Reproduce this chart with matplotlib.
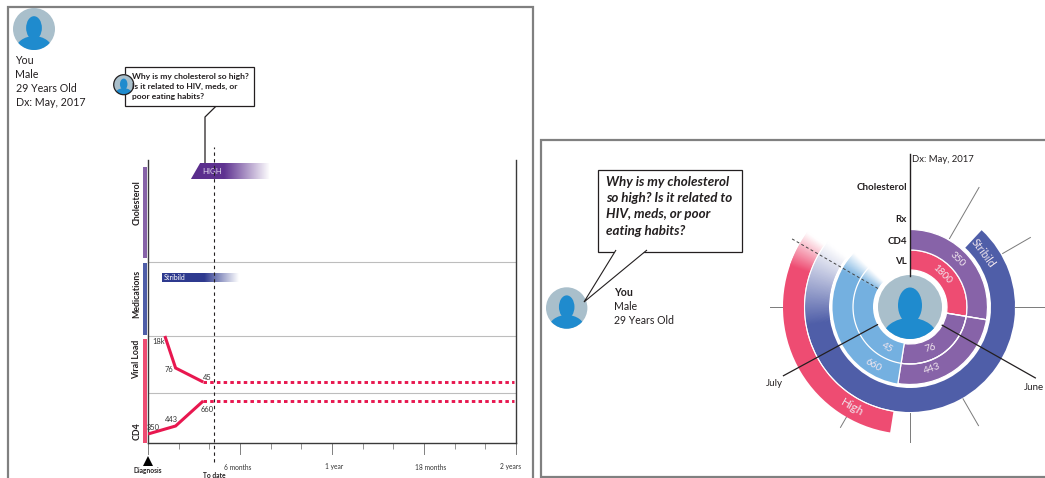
import numpy as np
import matplotlib
matplotlib.use('Agg')
import matplotlib.pyplot as plt
from matplotlib.patches import Circle, Ellipse, Rectangle, Polygon
from matplotlib.colors import LinearSegmentedColormap, to_rgb

W, H = 1045, 478
FONT = 'Lato'
plt.rcParams['font.family'] = [FONT, 'DejaVu Sans']

# ---------- data: timeline ----------
tick_months = [0, 2, 4, 6, 8, 10, 12, 14, 16, 18, 20, 22, 24]
major_months = [6, 12, 18, 24]
major_labels = ['6 months', '1 year', '18 months', '2 years']
to_date_month = 4.3
row_lines = [181.5, 107.5, 50]
vl_months = [1.1, 1.8, 3.6]
vl_levels = [107, 75, 61]
vl_labels = ['18k', '76', '45']
cd4_months = [0, 1.8, 3.6]
cd4_levels = [9, 17, 42]
cd4_labels = ['350', '443', '660']
row_names = ['Cholesterol', 'Medications', 'Viral Load', 'CD4']
row_bands = [(185, 276), (108, 180), (0, 104)]
high_start, high_end = 2.8, 7.9
rx_start, rx_end = 0.9, 5.9

# ---------- data: radial view ----------
visit_angles = [0, 99.5, 189, 300]
vl_ring_labels = ['1800', '76', '45']
cd4_ring_labels = ['350', '443', '660']
rx_angles = (43, 316)
chol_angles = (189, 316)
spoke_angles = [30, 60, 90, 150, 180, 210, 270]
spoke_inner = [79, 107, 105, 106, 106, 127, 127]
spoke_outer = [138, 139, 140, 137, 135, 139, 140]
month_angles = [119.5, 241.5]
month_names = ['June', 'July']

PURPLE = '#8763A8'
BLUE = '#4F5EA8'
RED = '#EE4C72'
SKY = '#74B0E0'
LINE_RED = '#E8174F'
AV_BG = '#A9BFCB'
AV_FG = '#1F8BCE'
DARK = '#231F20'
GREY = '#808080'

fig = plt.figure(figsize=(W / 100, H / 100), dpi=100)

# ---------- page layer in pixels ----------
page = fig.add_axes([0, 0, 1, 1], zorder=0)
page.set_xlim(0, W)
page.set_ylim(H, 0)
page.axis('off')


def avatar(ax, cx, cy, r, ring=None, z=5):
    bg = Circle((cx, cy), r, fc=AV_BG, ec='none', zorder=z)
    ax.add_patch(bg)
    if ring:
        ax.add_patch(Circle((cx, cy), r, fc='none', ec=ring, lw=0.9, zorder=z + 2))
    head = Ellipse((cx, cy - r * 0.05), r * 0.75, r * 1.12, fc=AV_FG, ec='none', zorder=z + 1)
    body = Ellipse((cx, cy + r * 1.0), r * 1.75, r * 1.32, fc=AV_FG, ec='none', zorder=z + 1)
    ax.add_patch(head)
    ax.add_patch(body)
    head.set_clip_path(bg)
    body.set_clip_path(bg)


# panels
page.add_patch(Rectangle((8, 6.5), 525, 480, fc='white', ec=GREY, lw=1.6, zorder=1))
page.add_patch(Rectangle((541, 139.5), 520, 337.5, fc='white', ec=GREY, lw=1.6, zorder=1))

# left profile
avatar(page, 34, 29, 21)
for y, s in zip([60, 74, 88, 102], ['You', 'Male', '29 Years Old', 'Dx: May, 2017']):
    page.text(15.5, y, s, fontsize=7.7, color=DARK, va='center', ha='left', zorder=6)

# left callout
page.plot([216.7, 205, 205], [105.5, 117, 163], color=DARK, lw=0.9, zorder=6)
page.add_patch(Rectangle((125, 66.5), 128.5, 39, fc='white', ec=DARK, lw=0.9, zorder=6))
for y, s in zip([76, 86, 96], ['Why is my cholesterol so high?', 'Is it related to HIV, meds, or', 'poor eating habits?']):
    page.text(132, y, s, fontsize=6.1, fontweight='bold', color=DARK, va='center', zorder=9)
page.add_patch(Circle((123.7, 84.7), 10.3, fc='white', ec='none', zorder=7))
avatar(page, 123.7, 84.7, 10, ring=DARK, z=7)

# right callout
page.add_patch(Rectangle((598, 169.5), 143.5, 82, fc='white', ec=DARK, lw=0.9, zorder=4))
page.add_patch(Polygon([(616, 250), (584, 302), (647, 250)], closed=False, fc='white', ec=DARK, lw=0.8, zorder=6))
for y, s in zip([181.5, 198, 214.5, 231],
                ['Why is my cholesterol', 'so high? Is it related to', 'HIV, meds, or poor', 'eating habits?']):
    page.text(606, y, s, fontsize=9.6, fontweight='bold', fontstyle='italic', color=DARK, va='center', zorder=7)

# right profile
avatar(page, 566.7, 308, 20.7)
page.text(614, 293, 'You', fontsize=7.6, fontweight='bold', color=DARK, va='center')
page.text(614, 307, 'Male', fontsize=7.6, color=DARK, va='center')
page.text(614, 321, '29 Years Old', fontsize=7.6, color=DARK, va='center')

# avatar at the hub
avatar(page, 910, 307, 32)

# ---------- timeline axes ----------
left, right, top, bottom = 148, 516, 160, 443
tl = fig.add_axes([left / W, 1 - bottom / H, (right - left) / W, (bottom - top) / H], zorder=3)
tl.patch.set_alpha(0)
tl.set_xlim(0, 24)
tl.set_ylim(0, bottom - top)
tl.spines['top'].set_visible(False)
for s in ['left', 'right', 'bottom']:
    tl.spines[s].set_linewidth(1.0)
    tl.spines[s].set_color('#3a3a3a')
tl.set_yticks([])
tl.set_xticks(tick_months)
tl.set_xticklabels([])
tl.tick_params(axis='x', length=4.5, width=0.6, color='#808080')
for m in major_months + [0]:
    tl.plot([m, m], [0, -10.5], color='#808080', lw=0.7, clip_on=False, zorder=2)

for y in row_lines:
    tl.axhline(y, color='#BDBDBD', lw=0.8, zorder=1)

for (y0, y1), c in zip(row_bands, [PURPLE, BLUE, RED]):
    tl.add_patch(Rectangle((-0.34, y0), 0.27, y1 - y0, fc=c, ec='none', clip_on=False))
for y, s in zip([240, 149, 84, 12], row_names):
    tl.text(-0.72, y, s, rotation=90, ha='center', va='center', fontsize=6.3, fontweight='bold',
            color=DARK, clip_on=False)

# gradients
high_cm = LinearSegmentedColormap.from_list('h', [(0, '#5A2D8C'), (0.42, '#5F3391'), (1, '#FFFFFF')])
im = tl.imshow(np.linspace(0, 1, 256)[None, :], extent=[high_start, high_end, 264, 280], cmap=high_cm,
               aspect='auto', zorder=3)
clip = Polygon([(high_start, 264), (high_start + 0.6, 280), (high_end, 280), (high_end, 264)],
               transform=tl.transData, fc='none', ec='none')
tl.add_patch(clip)
im.set_clip_path(clip)
tl.text(4.15, 271, 'HIGH', color='#E6DDF0', fontsize=5.6, ha='center', va='center', zorder=5)

rx_cm = LinearSegmentedColormap.from_list('r', [(0, '#2E3A8F'), (0.55, '#2E3A8F'), (1, '#FFFFFF')])
tl.imshow(np.linspace(0, 1, 256)[None, :], extent=[rx_start, rx_end, 161, 170], cmap=rx_cm, aspect='auto', zorder=3)
tl.text(1.05, 165.5, 'Stribild', color='white', fontsize=5, ha='left', va='center', zorder=5)
tl.set_xlim(0, 24)
tl.set_ylim(0, bottom - top)

# series
tl.plot(vl_months, vl_levels, color=LINE_RED, lw=2.2, solid_joinstyle='miter', solid_capstyle='butt', zorder=4)
tl.plot(cd4_months, cd4_levels, color=LINE_RED, lw=2.2, solid_joinstyle='miter', solid_capstyle='butt', zorder=4)
for lv in (vl_levels[-1], cd4_levels[-1]):
    tl.plot([vl_months[-1], 23.9], [lv, lv], color=LINE_RED, lw=2.1, dashes=(1.2, 1.1), dash_capstyle='butt', zorder=4)
lab_off_vl = [(-6, -5), (-7, -1), (4, 5)]
lab_off_cd = [(5, 7), (-4, 6), (4, -8)]
for xs, ls, vals, offs in [(vl_months, vl_levels, vl_labels, lab_off_vl),
                           (cd4_months, cd4_levels, cd4_labels, lab_off_cd)]:
    for x, y, s, o in zip(xs, ls, vals, offs):
        tl.annotate(s, (x, y), xytext=(o[0] * 0.72, o[1] * 0.72), textcoords='offset points', fontsize=5.4,
                    ha='center', va='center', color='#333333', zorder=6, annotation_clip=False)

# to-date marker
tl.plot([to_date_month] * 2, [-19, 296], color=DARK, lw=0.8, dashes=(3, 3), clip_on=False, zorder=5)

# tick text
for m, s, dx in zip(major_months, major_labels, [-2, 2, 7, -5]):
    tl.annotate(s, (m, 0), xytext=(dx * 0.72, -24 * 0.72), textcoords='offset points', fontsize=4.8,
                ha='center', va='center', color='#333333', annotation_clip=False)
tl.annotate('Diagnosis', (0, 0), xytext=(0, -28 * 0.72), textcoords='offset points', fontsize=4.8,
            fontweight='bold', ha='center', va='center', color=DARK, annotation_clip=False)
tl.annotate('To date', (to_date_month, 0), xytext=(0.5, -32 * 0.72), textcoords='offset points', fontsize=4.8,
            fontweight='bold', ha='center', va='center', color=DARK, annotation_clip=False)
tl.plot([0], [-17.5], marker='^', color='black', ms=6.5, clip_on=False, mew=0, zorder=6)

# ---------- radial axes ----------
R = 155
cx, cy = 910, 307
po = fig.add_axes([(cx - R) / W, 1 - (cy + R) / H, 2 * R / W, 2 * R / H], projection='polar', zorder=4)
po.patch.set_alpha(0)
po.set_theta_zero_location('N')
po.set_theta_direction(-1)
po.set_ylim(0, R)
po.axis('off')


def seg(a0, a1, r0, r1, color, white_edge=True):
    po.bar(np.radians((a0 + a1) / 2), r1 - r0, width=np.radians(a1 - a0), bottom=r0, color=color,
           edgecolor='white' if white_edge else 'none', linewidth=0.9 if white_edge else 0, zorder=3)


def faded(a0, a1, r0, r1, color, f0, f1):
    """Solid arc that blends to white between f0 and f1 (style only)."""
    base = np.array(to_rgb(color))
    seg(a0, f0 + 0.5, r0, r1, color, white_edge=False)
    # short overlapping steps: no seams, and no dark rim built up along the edges
    for e0 in np.arange(f0, a1, 0.5):
        t = min(1, max(0, (e0 + 0.25 - f0) / (f1 - f0)))
        seg(e0, min(e0 + 1.0, a1), r0, r1, tuple(base + (1 - base) * t), white_edge=False)


# inner two rings
a = visit_angles
ring_cols = [[RED, PURPLE], [PURPLE, PURPLE]]
for i, (r0, r1) in enumerate([(37, 57), (57, 77.5)]):
    for j in range(2):
        seg(a[j], a[j + 1], r0, r1, ring_cols[i][j])
    faded(a[2], 314.5, r0, r1, SKY, 298, 314)

# medication & cholesterol rings
faded(rx_angles[0], 308.5, 81, 105, BLUE, 260, 308)
faded(chol_angles[0], 306.5, 106, 127, RED, 289, 306)

# white separators
th = np.radians(np.linspace(a[1], 316, 200))
po.plot(th, np.full_like(th, 57), color='white', lw=0.9, zorder=4)
for ang in a[1:3]:
    po.plot(np.radians([ang, ang]), [37, 77.5], color='white', lw=0.9, zorder=4)
th2 = np.radians(np.linspace(a[2], 316, 200))
po.plot(th2, np.full_like(th2, 105.5), color='white', lw=0.8, zorder=4)

# spokes
for ang, r0, r1 in zip(spoke_angles, spoke_inner, spoke_outer):
    po.plot(np.radians([ang, ang]), [r0, r1], color='#7a7a7a', lw=0.7, zorder=2)
po.plot(np.radians([0, 0]), [31, 153], color=DARK, lw=1.0, zorder=5)
po.plot(np.radians([300, 300]), [37, 138], color='#444444', lw=0.7, dashes=(3, 2.5), zorder=5)
for ang, name in zip(month_angles, month_names):
    po.plot(np.radians([ang, ang]), [37, 144], color=DARK, lw=0.9, zorder=5)

# ring labels
txt = dict(color='#F1E6EE', ha='center', va='center', zorder=6)
for (ang, r, s, rot) in [(44, 46, vl_ring_labels[0], -45), (45, 67, cd4_ring_labels[0], -45),
                         (154, 46, vl_ring_labels[1], 15), (160, 66, cd4_ring_labels[1], 20),
                         (209, 47, vl_ring_labels[2], -30), (212, 69, cd4_ring_labels[2], -30)]:
    po.text(np.radians(ang), r, s, rotation=rot, fontsize=7.2, **txt)
po.text(np.radians(54), 91, 'Stribild', rotation=-54, fontsize=7.6, **txt)
po.text(np.radians(210), 116, 'High', rotation=-30, fontsize=8.4, **txt)

# radial labels placed on the page layer
page.text(912, 160, 'Dx: May, 2017', fontsize=6.8, color=DARK, va='center', zorder=7)
for y, s in zip([187, 220, 241, 261], ['Cholesterol', 'Rx', 'CD4', 'VL']):
    page.text(907, y, s, fontsize=7, fontweight='bold', color=DARK, ha='right', va='center', zorder=7)
page.text(774, 383, month_names[1], fontsize=7, color=DARK, ha='center', va='center', zorder=7)
page.text(1034, 388, month_names[0], fontsize=7, color=DARK, ha='center', va='center', zorder=7)

fig.savefig('out.png', dpi=100)
